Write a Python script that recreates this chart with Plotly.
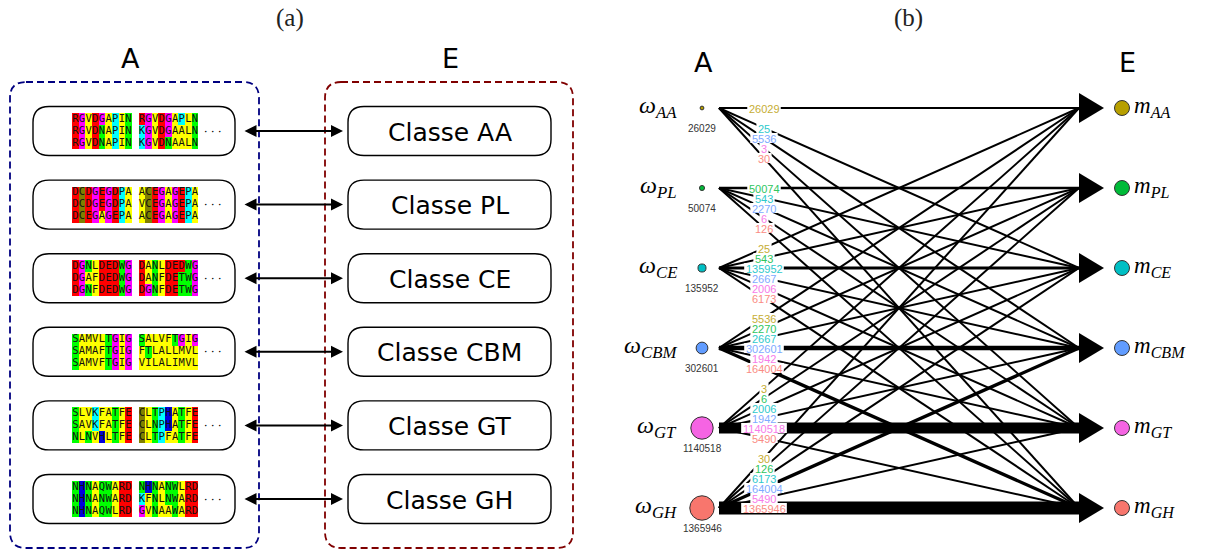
import plotly.graph_objects as go
import numpy as np

# ---------------- data ----------------
classes = ["AA", "PL", "CE", "CBM", "GT", "GH"]
# symmetric co-occurrence / confusion counts (row = source A, col = target E)
counts_AA = [26029, 0, 25, 5536, 3, 30]
counts_PL = [0, 50074, 543, 2270, 6, 126]
counts_CE = [25, 543, 135952, 2667, 2006, 6173]
counts_CBM = [5536, 2270, 2667, 302601, 1942, 164004]
counts_GT = [3, 6, 2006, 1942, 1140518, 5490]
counts_GH = [30, 126, 6173, 164004, 5490, 1365946]
counts = [counts_AA, counts_PL, counts_CE, counts_CBM, counts_GT, counts_GH]

node_colors = ["#B79F00", "#00BA38", "#00BFC4", "#619CFF", "#F564E3", "#F8766D"]
label_colors = ["#c6ad33", "#2fc65e", "#2ec9cc", "#7eaaff", "#f77ce9", "#fa8c84"]

seq_AA = ["RGVDGAPIN RGVDGAPLN", "RGVDNAPIN KGVDGAALN", "RGVDNAPIN KGVDNAALN"]
seq_PL = ["DCDGEGDPA ACEGAGEPA", "DCDGEGDPA VCEGAGEPA", "DCEGAGEPA ACEGAGEPA"]
seq_CE = ["DGNLDEDWG DANLDEDWG", "DGAFDEDWG DANFDETWG", "DGNFDEDWG DGNFDETWG"]
seq_CBM = ["SAMVLTGIG SALVFTGIG", "SAMAFTGIG FTLALLMVL", "SAMVFTGIG VILALIMVL"]
seq_GT = ["SLVKFATFE CLTPHATFE", "SAVKFATFE CLNPHATFE", "NLNVHLTFE CLTPFATFE"]
seq_GH = ["NHNAQWARD NHNANWLRD", "NHNANWARD KFNLNWARD", "NHNAQWLRD GVNAAWARD"]
sequences = [seq_AA, seq_PL, seq_CE, seq_CBM, seq_GT, seq_GH]

# residue colouring groups
residue_group = {"R": 0, "D": 0, "E": 0,
                 "G": 1,
                 "A": 2, "V": 2, "I": 2, "L": 2, "M": 2, "F": 2,
                 "N": 3, "Q": 3, "S": 3, "T": 3, "W": 3,
                 "P": 4, "K": 4,
                 "H": 5,
                 "C": 6}
group_colors = ["#ff0000", "#ff00ff", "#ffff00", "#00ff00", "#00ffff", "#0000dd", "#808000"]

# ---------------- layout constants ----------------
W, H = 1207, 554
fig = go.Figure()
shapes = []
ann = []

def rounded_rect(x0, y0, x1, y1, r):
    return (f"M {x0+r},{y0} L {x1-r},{y0} Q {x1},{y0} {x1},{y0+r} "
            f"L {x1},{y1-r} Q {x1},{y1} {x1-r},{y1} L {x0+r},{y1} "
            f"Q {x0},{y1} {x0},{y1-r} L {x0},{y0+r} Q {x0},{y0} {x0+r},{y0} Z")

# ================= panel (a) =================
row_a = [131 + 73.6 * i for i in range(len(classes))]
shapes.append(dict(type="path", path=rounded_rect(10, 82, 259, 548, 16),
                   line=dict(color="#000080", width=1.8, dash="7px,4px")))
shapes.append(dict(type="path", path=rounded_rect(325, 82, 573, 548, 16),
                   line=dict(color="#800000", width=1.8, dash="7px,4px")))

cw = 6.65
rh = 12.0
x_start = 72
ncol = len(seq_AA[0])
x_edges = [x_start + k * cw for k in range(ncol + 1)]
y_edges = []
z = []
for b, seqs in enumerate(sequences):
    c = row_a[b]
    if b > 0:
        z.append([np.nan] * ncol)
    y_edges.append(c - 1.5 * rh)
    for r, s in enumerate(seqs):
        y_edges.append(c - 1.5 * rh + (r + 1) * rh)
        z.append([residue_group[ch] if ch in residue_group else np.nan for ch in s])

n = len(group_colors)
cscale = []
for k, col in enumerate(group_colors):
    cscale.append([k / n, col])
    cscale.append([(k + 1) / n, col])
fig.add_trace(go.Heatmap(x=x_edges, y=y_edges, z=z, colorscale=cscale,
                         zmin=-0.5, zmax=n - 0.5, showscale=False,
                         hoverinfo="skip"))

tx, ty, tt = [], [], []
for b, seqs in enumerate(sequences):
    c = row_a[b]
    for r, s in enumerate(seqs):
        for k, ch in enumerate(s):
            if ch != " ":
                tx.append(x_start + (k + 0.5) * cw)
                ty.append(c + (r - 1) * rh)
                tt.append(ch)
fig.add_trace(go.Scatter(x=tx, y=ty, text=tt, mode="text",
                         textfont=dict(family="DejaVu Sans Mono", size=10.5, color="#111"),
                         hoverinfo="skip", showlegend=False))

for b, cls in enumerate(classes):
    c = row_a[b]
    shapes.append(dict(type="path", path=rounded_rect(33, c - 24.5, 235, c + 24.5, 16),
                       line=dict(color="black", width=1.4)))
    shapes.append(dict(type="path", path=rounded_rect(348, c - 24.5, 551, c + 24.5, 16),
                       line=dict(color="black", width=1.4)))
    ann.append(dict(x=212, y=c + 1, text="· · ·", showarrow=False,
                    font=dict(family="DejaVu Serif", size=11, color="black")))
    ann.append(dict(x=449.5, y=c + 1, text="Classe " + cls, showarrow=False,
                    font=dict(family="DejaVu Sans", size=25, color="black")))
    ann.append(dict(x=343, y=c, ax=243, ay=c, axref="x", ayref="y", xref="x", yref="y",
                    text="", showarrow=True, arrowside="end+start", arrowhead=2,
                    arrowsize=1.2, arrowwidth=2, arrowcolor="black"))

ann.append(dict(x=290, y=18, text="(a)", showarrow=False,
                font=dict(family="Liberation Serif", size=25, color="#222")))
ann.append(dict(x=130, y=58, text="A", showarrow=False,
                font=dict(family="DejaVu Sans", size=27, color="black")))
ann.append(dict(x=450, y=58, text="E", showarrow=False,
                font=dict(family="DejaVu Sans", size=27, color="black")))

# ================= panel (b) =================
row_b = [108 + 80 * i for i in range(len(classes))]
x_src_dot = 702
x0, x1 = 719, 1079
x_lab = 764

order = sorted([(counts[i][j], i, j) for i in range(6) for j in range(6) if counts[i][j] > 0])
for v, i, j in order:
    fig.add_trace(go.Scatter(x=[x0, x1], y=[row_b[i], row_b[j]], mode="lines",
                             line=dict(color="black", width=2.0 + 8e-6 * v),
                             hoverinfo="skip", showlegend=False))

tot = [counts[i][i] for i in range(6)]
fig.add_trace(go.Scatter(x=[x_src_dot] * 6, y=row_b, mode="markers",
                         marker=dict(size=[0.0205 * np.sqrt(t) + 0.5 for t in tot], opacity=1,
                                     color=node_colors, line=dict(color="#333", width=1)),
                         hoverinfo="skip", showlegend=False))
fig.add_trace(go.Scatter(x=[1122] * 6, y=row_b, mode="markers",
                         marker=dict(size=15, color=node_colors, opacity=1,
                                     line=dict(color="#333", width=1)),
                         hoverinfo="skip", showlegend=False))

for j in range(6):
    y = row_b[j]
    shapes.append(dict(type="path", path=f"M {x1},{y-15} L {x1+25},{y} L {x1},{y+15} Z",
                       fillcolor="black", line=dict(width=0), layer="above"))
    ann.append(dict(x=1132, y=y - 1, xanchor="left", text=f"<i>m</i><sub><i>{classes[j]}</i></sub>",
                    showarrow=False, font=dict(family="Liberation Serif", size=23, color="black")))

for i in range(6):
    y = row_b[i]
    ann.append(dict(x=679, y=y - 1, xanchor="right", text=f"<i>ω</i><sub><i>{classes[i]}</i></sub>",
                    showarrow=False, font=dict(family="Liberation Serif", size=24, color="black")))
    ann.append(dict(x=x_src_dot, y=y + 20, text=str(tot[i]), showarrow=False,
                    font=dict(family="Liberation Sans", size=10, color="#333")))
    for j in range(6):
        v = counts[i][j]
        if v <= 0:
            continue
        yl = row_b[i] + (row_b[j] - row_b[i]) * (x_lab - x0) / (x1 - x0)
        wbox = len(str(v)) * 6.1 + 3
        shapes.append(dict(type="rect", x0=x_lab - wbox / 2, x1=x_lab + wbox / 2,
                           y0=yl - 5, y1=yl + 5, fillcolor="white",
                           line=dict(width=0), layer="above"))
        ann.append(dict(x=x_lab, y=yl + 0.5, text=str(v), showarrow=False,
                        font=dict(family="Liberation Sans", size=11, color=label_colors[j])))

ann.append(dict(x=908, y=18, text="(b)", showarrow=False,
                font=dict(family="Liberation Serif", size=25, color="#222")))
ann.append(dict(x=703, y=62, text="A", showarrow=False,
                font=dict(family="DejaVu Sans", size=27, color="black")))
ann.append(dict(x=1127, y=62, text="E", showarrow=False,
                font=dict(family="DejaVu Sans", size=27, color="black")))

for a in ann:
    a.setdefault("xref", "x")
    a.setdefault("yref", "y")

fig.update_layout(width=W, height=H, margin=dict(l=0, r=0, t=0, b=0),
                  paper_bgcolor="white", plot_bgcolor="white", showlegend=False,
                  xaxis=dict(range=[0, W], visible=False, fixedrange=True),
                  yaxis=dict(range=[H, 0], visible=False, fixedrange=True),
                  shapes=shapes, annotations=ann)
fig.write_html("out.html", config={"displayModeBar": False},
               post_script="document.body.style.margin='0px';")
